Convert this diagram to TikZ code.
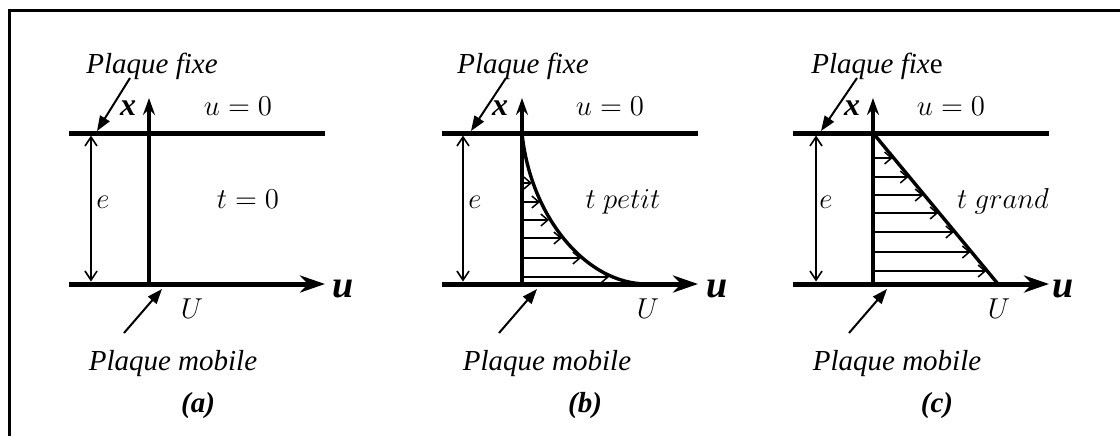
\documentclass[tikz,border=0pt]{standalone}
\usepackage{fontspec}
\setmainfont{Liberation Serif}
\usetikzlibrary{arrows.meta}
\tikzset{
  frameline/.style={line width=1.35pt},
  plate/.style={line width=2.5pt},
  axisline/.style={line width=1.9pt, -{Stealth[length=8.5pt,width=6pt,inset=3pt]}},
  uaxis/.style={line width=2.5pt, -{Stealth[length=12.5pt,width=8.5pt,inset=4pt]}},
  dimline/.style={line width=0.8pt, {Straight Barb[length=4.5pt,width=6pt]}-{Straight Barb[length=4.5pt,width=6pt]}},
  pointer/.style={line width=1pt, -{Triangle[length=7.5pt,width=5.5pt]}},
  prof/.style={line width=0.75pt, -{Straight Barb[length=3.5pt,width=6pt]}},
  profcurve/.style={line width=1.7pt},
  txt/.style={font=\fontsize{14.5}{17}\selectfont\itshape, inner sep=0pt, anchor=base},
  mth/.style={font=\fontsize{14.5}{17}\selectfont, inner sep=0pt, anchor=base},
  boldlet/.style={font=\fontsize{16}{19}\selectfont\bfseries\itshape, inner sep=0pt, anchor=base},
  biglet/.style={font=\fontsize{19}{22}\selectfont\bfseries\itshape, inner sep=0pt, anchor=base},
  sublabel/.style={font=\fontsize{14.5}{17}\selectfont\bfseries\itshape, inner sep=0pt, anchor=base},
}
\begin{document}
\begin{tikzpicture}[x=0.5pt, y=-0.5pt]
\useasboundingbox (0,0) rectangle (1120,436);
\coordinate (fa) at (9.5,436);
\coordinate (fb) at (9.5,10.5);
\coordinate (fc) at (1120,10.5);
\draw[frameline] (fa) -- (fb) -- (fc);

% ---------- panel (a) ----------
\coordinate (tla) at (69,133);
\coordinate (tra) at (325,133);
\coordinate (bla) at (69,284);
\coordinate (bra) at (325,284);
\coordinate (oa) at (149,284);
\coordinate (xta) at (149,98);
\coordinate (eta) at (91,135.5);
\coordinate (eba) at (91,281.5);
\coordinate (pfsa) at (130,78);
\coordinate (pfea) at (97,131);
\coordinate (pmsa) at (124,333);
\coordinate (pmea) at (162,289);
\draw[plate] (tla) -- (tra);
\draw[uaxis] (bla) -- (bra);
\draw[axisline] (oa) -- (xta);
\draw[dimline] (eta) -- (eba);
\draw[pointer] (pfsa) -- (pfea);
\draw[pointer] (pmsa) -- (pmea);
\node[boldlet] (xla) at (128,115) {x};
\node[mth] (ela) at (103,208) {$e$};
\node[biglet] (ula) at (343,297) {u};
\node[txt] (pfa) at (152,73) {Plaque fixe};
\node[mth] (u0a) at (238,115) {$u=0$};
\node[mth] (ta) at (248,208) {$t=0$};
\node[mth] (Ua) at (192,318) {$U$};
\node[txt] (pma) at (173,370) {Plaque mobile};
\node[sublabel] (la) at (198,412) {(a)};

% ---------- panel (b) ----------
\coordinate (tlb) at (442,133);
\coordinate (trb) at (698,133);
\coordinate (blb) at (442,284);
\coordinate (brb) at (698,284);
\coordinate (ob) at (522,284);
\coordinate (xtb) at (522,98);
\coordinate (etb) at (463,135.5);
\coordinate (ebb) at (463,281.5);
\coordinate (pfsb) at (506,78);
\coordinate (pfeb) at (471,131);
\coordinate (pmsb) at (499,333);
\coordinate (pmeb) at (537,289);
\draw[plate] (tlb) -- (trb);
\draw[uaxis] (blb) -- (brb);
\coordinate (csb) at (522,133);
\coordinate (ceb) at (647,284);
\draw[profcurve] (csb) .. controls (530,215) and (585,284) .. (ceb);
\foreach \yy/\xx in {183/532,202/540,220/549,238/562,258/581,277/609}
  \draw[prof] (522,\yy) -- (\xx,\yy);
\draw[axisline] (ob) -- (xtb);
\draw[dimline] (etb) -- (ebb);
\draw[pointer] (pfsb) -- (pfeb);
\draw[pointer] (pmsb) -- (pmeb);
\node[boldlet] (xlb) at (500,115) {x};
\node[mth] (elb) at (475,208) {$e$};
\node[biglet] (ulb) at (717,297) {u};
\node[txt] (pfb) at (523,73) {Plaque fixe};
\node[mth] (u0b) at (610,115) {$u=0$};
\node[mth] (tb) at (623,208) {$t\ petit$};
\node[mth] (Ub) at (648,318) {$U$};
\node[txt] (pmb) at (547,370) {Plaque mobile};
\node[sublabel] (lb) at (585,412) {(b)};

% ---------- panel (c) ----------
\coordinate (tlc) at (793,133);
\coordinate (trc) at (1049,133);
\coordinate (blc) at (793,284);
\coordinate (brc) at (1049,284);
\coordinate (oc) at (873,284);
\coordinate (xtc) at (873,98);
\coordinate (etc) at (816,135.5);
\coordinate (ebc) at (816,281.5);
\coordinate (pfsc) at (857,78);
\coordinate (pfec) at (821,131);
\coordinate (pmsc) at (849,333);
\coordinate (pmec) at (887,289);
\draw[plate] (tlc) -- (trc);
\draw[uaxis] (blc) -- (brc);
\coordinate (lsc) at (873,133);
\coordinate (lec) at (998,284);
\draw[profcurve] (lsc) -- (lec);
\foreach \yy in {158,177,195,213,232,252,271}
  \draw[prof] (873,\yy) -- ({872+(\yy-133)*0.8278},\yy);
\draw[axisline] (oc) -- (xtc);
\draw[dimline] (etc) -- (ebc);
\draw[pointer] (pfsc) -- (pfec);
\draw[pointer] (pmsc) -- (pmec);
\node[boldlet] (xlc) at (852,115) {x};
\node[mth] (elc) at (826,208) {$e$};
\node[biglet] (ulc) at (1063,297) {u};
\node[txt] (pfc) at (877,73) {Plaque fix{\upshape e}};
\node[mth] (u0c) at (951,115) {$u=0$};
\node[mth] (tc) at (1003,208) {$t\ grand$};
\node[mth] (Uc) at (999,318) {$U$};
\node[txt] (pmc) at (897,370) {Plaque mobile};
\node[sublabel] (lc) at (937,412) {(c)};
\end{tikzpicture}
\end{document}
